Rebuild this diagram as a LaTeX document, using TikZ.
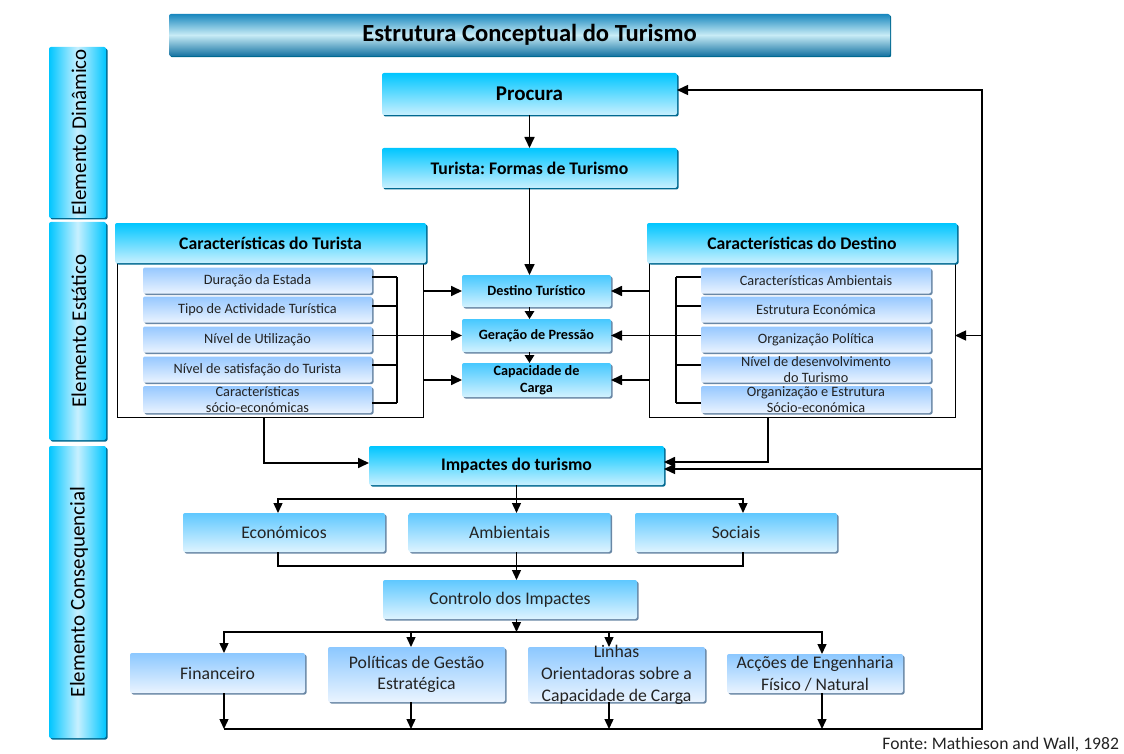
\documentclass[tikz,border=0pt]{standalone}
\usepackage{fontspec}
\setmainfont{Carlito}
\usetikzlibrary{arrows.meta,shadows,calc}
\frenchspacing

% palette
\definecolor{cyanTop}{RGB}{0,198,255}
\definecolor{cyanBot}{RGB}{200,240,255}
\definecolor{tealShadow}{RGB}{0,105,145}
\definecolor{titleEdge}{RGB}{25,135,190}
\definecolor{titleMid}{RGB}{200,236,246}
\definecolor{midTop}{RGB}{70,200,255}
\definecolor{midBot}{RGB}{210,242,255}
\definecolor{subTop}{RGB}{150,200,255}
\definecolor{subBot}{RGB}{234,243,255}
\definecolor{subShadow}{RGB}{105,135,165}
\definecolor{impTop}{RGB}{95,200,255}
\definecolor{impBot}{RGB}{222,244,255}
\definecolor{ctlTop}{RGB}{140,200,255}
\definecolor{ctlBot}{RGB}{234,244,255}
\definecolor{txtGrey}{RGB}{35,35,35}

\newcommand{\fsz}[2]{\fontsize{#1}{#2}\selectfont}

\tikzset{
  every node/.style={inner sep=0pt, outer sep=0pt},
  titlebox/.style={rounded corners=2pt, top color=titleEdge, bottom color=titleEdge!85!black,
    middle color=titleMid,
    drop shadow={shadow xshift=1.2pt, shadow yshift=-1.2pt, fill=tealShadow, opacity=1}},
  cyanbox/.style={rounded corners=2pt, top color=cyanTop, bottom color=cyanBot,
    drop shadow={shadow xshift=1.5pt, shadow yshift=-1.5pt, fill=tealShadow, opacity=1}},
  barbox/.style={rounded corners=2pt, left color=cyanTop, right color=cyanTop, middle color=cyanBot,
    drop shadow={shadow xshift=1.5pt, shadow yshift=-1.5pt, fill=tealShadow, opacity=1}},
  midbox/.style={rounded corners=2pt, top color=midTop, bottom color=midBot,
    minimum width=149pt, font=\bfseries\fsz{14.2}{17.5}, align=center,
    drop shadow={shadow xshift=1.5pt, shadow yshift=-1.5pt, fill=subShadow, opacity=1}},
  subbox/.style={rounded corners=2pt, top color=subTop, bottom color=subBot,
    minimum height=26pt, font=\fsz{14.3}{16.5}, text=txtGrey, align=center,
    drop shadow={shadow xshift=1.5pt, shadow yshift=-1.5pt, fill=subShadow, opacity=1}},
  impbox/.style={rounded corners=2pt, top color=impTop, bottom color=impBot,
    minimum width=202pt, minimum height=39pt, font=\fsz{17.7}{21}, text=txtGrey,
    drop shadow={shadow xshift=1.5pt, shadow yshift=-1.5pt, fill=subShadow, opacity=1}},
  ctlbox/.style={rounded corners=2pt, top color=ctlTop, bottom color=ctlBot,
    font=\fsz{17.7}{21.5}, text=txtGrey, align=center,
    drop shadow={shadow xshift=1.5pt, shadow yshift=-1.5pt, fill=subShadow, opacity=1}},
  boxtext/.style={font=\fsz{17.7}{21.7}, text=txtGrey, align=center},
  subtext/.style={font=\fsz{14.3}{16.5}, text=txtGrey, align=center},
  frame/.style={draw=black, line width=1pt, fill=white},
  arr/.style={-{Triangle[length=11pt,width=10pt]}, line width=1.7pt},
  arrsm/.style={-{Triangle[length=8pt,width=9.5pt]}, line width=1.7pt},
  arrlow/.style={-{Triangle[length=10pt,width=9pt]}, line width=1.4pt},
  thinline/.style={line width=1.1pt},
  lowline/.style={line width=1.3pt},
}

\begin{document}
\begin{tikzpicture}[x=1pt, y=-1pt]
\useasboundingbox (0,0) rectangle (1124,754);

% heading
\node[titlebox, minimum width=721pt, minimum height=42pt, font=\bfseries\fsz{24.6}{28}]
  (title) at (529.5,35) {Estrutura Conceptual do Turismo};

% side bands
\node[barbox, minimum width=57pt, minimum height=171pt] (dinamico) at (77.5,132.5) {};
\node[rotate=90, font=\fsz{21}{24}] (dinamico-t) at (79,132.5) {Elemento Dinâmico};
\node[barbox, minimum width=57pt, minimum height=218pt] (estatico) at (77.5,331) {};
\node[rotate=90, font=\fsz{21}{24}] (estatico-t) at (79,331) {Elemento Estático};
\node[barbox, minimum width=57pt, minimum height=292pt] (consequencial) at (77.5,592) {};
\node[rotate=90, font=\fsz{21}{24}] (consequencial-t) at (79,592) {Elemento Consequencial};

% dynamic element
\node[cyanbox, minimum width=295pt, minimum height=42pt, font=\bfseries\fsz{21}{24}]
  (procura) at (529.5,94) {Procura};
\node[cyanbox, minimum width=295pt, minimum height=40pt, font=\bfseries\fsz{17.7}{21}]
  (turista) at (529.5,168) {Turista: Formas de Turismo};

% tourist characteristics
\node[frame, minimum width=306pt, minimum height=154pt] (ltframe) at (270,340) {};
\node[cyanbox, minimum width=311pt, minimum height=40pt, font=\bfseries\fsz{17.7}{21}]
  (lthead) at (270.5,243) {Características do Turista};
\node[subbox, minimum width=229pt] (lts1) at (257.5,280.5) {Duração da Estada};
\node[subbox, minimum width=229pt] (lts2) at (257.5,309.5) {Tipo de Actividade Turística};
\node[subbox, minimum width=229pt] (lts3) at (257.5,339.5) {Nível de Utilização};
\node[subbox, minimum width=229pt] (lts4) at (257.5,369.5) {Nível de satisfação do Turista};
\node[subbox, minimum width=229pt, minimum height=27pt] (lts5) at (257.5,399.5) {};
\node[subtext] (lts5-t) at (lts5.center) {Características\\sócio-económicas};

% destination characteristics
\node[frame, minimum width=306pt, minimum height=154pt] (rtframe) at (802,340) {};
\node[cyanbox, minimum width=310pt, minimum height=40pt, font=\bfseries\fsz{17.7}{21}]
  (rthead) at (802,243) {Características do Destino};
\node[subbox, minimum width=230pt] (rts1) at (816,280.5) {Características Ambientais};
\node[subbox, minimum width=230pt] (rts2) at (816,309.5) {Estrutura Económica};
\node[subbox, minimum width=230pt] (rts3) at (816,339.5) {Organização Política};
\node[subbox, minimum width=230pt] (rts4) at (816,369.5) {};
\node[subtext] (rts4-t) at (rts4.center) {Nível de desenvolvimento\\do Turismo};
\node[subbox, minimum width=230pt, minimum height=27pt] (rts5) at (816,399.5) {};
\node[subtext] (rts5-t) at (rts5.center) {Organização e Estrutura\\Sócio-económica};

% central column
\node[midbox, minimum height=32pt] (destino) at (536.5,291) {Destino Turístico};
\node[midbox, minimum height=33pt] (geracao) at (536.5,335.5) {Geração de Pressão};
\node[midbox, minimum height=34pt] (capacidade) at (536.5,380) {Capacidade de\\Carga};

% consequential element
\node[cyanbox, minimum width=295pt, minimum height=39pt, font=\bfseries\fsz{17.7}{21}]
  (impactes) at (516.5,465.5) {Impactes do turismo};
\node[impbox] (economicos) at (284,532.5) {Económicos};
\node[impbox] (ambientais) at (509.5,532.5) {Ambientais};
\node[impbox] (sociais) at (736,532.5) {Sociais};
\node[impbox, minimum width=254pt] (controlo) at (510,599.5) {Controlo dos Impactes};

\node[ctlbox, minimum width=175pt, minimum height=40pt] (financeiro) at (217.5,673) {Financeiro};
\node[ctlbox, minimum width=177pt, minimum height=55pt] (politicas) at (416.5,674.5) {Políticas de Gestão\\Estratégica};
\node[ctlbox, minimum width=177pt, minimum height=55pt] (linhas) at (616.5,674.5) {};
\node[boxtext] (linhas-t) at (616.5,675) {Linhas\\Orientadoras sobre a\\Capacidade de Carga};
\node[ctlbox, minimum width=176pt, minimum height=39pt] (accoes) at (815,673.5) {Acções de Engenharia\\Físico / Natural};

\node[anchor=east, font=\fsz{17.6}{21}, text=txtGrey] (fonte) at (1119,745) {Fonte: Mathieson and Wall, 1982};

% guide coordinates for the brackets and the feedback loop
\coordinate (ltbr) at (397,0);
\coordinate (rtbr) at (676,0);
\coordinate (ltdrop) at (264,0);
\coordinate (rtdrop) at (768,0);
\coordinate (loopx) at (982,0);
\coordinate (loopy) at (0,729);

% upper chain
\draw[arr] (procura.south) -- (turista.north);
\draw[arr] (turista.south) -- (turista.south |- destino.north);
\draw[arrsm] (turista.south |- destino.south) -- (turista.south |- geracao.north);
\draw[arrsm] (turista.south |- geracao.south) -- (turista.south |- capacidade.north);

% left bracket
\foreach \n/\s in {1/3.5,2/3.5,4/4.5,5/-3.5}
  \draw[thinline] ([yshift=\s pt]lts\n.east) -- ([yshift=\s pt]lts\n.east -| ltbr);
\draw[thinline] ([yshift=3.5pt]lts1.east -| ltbr) -- ([yshift=-3.5pt]lts5.east -| ltbr);
\draw[arr] (lts3.east |- geracao.west) -- (geracao.west);
\draw[arr] (ltframe.east |- destino.west) -- (destino.west);
\draw[arr] (ltframe.east |- capacidade.west) -- (capacidade.west);

% right bracket
\foreach \n/\s in {1/3.5,2/3.5,4/4.5,5/-3.5}
  \draw[thinline] ([yshift=\s pt]rts\n.west) -- ([yshift=\s pt]rts\n.west -| rtbr);
\draw[thinline] ([yshift=3.5pt]rts1.west -| rtbr) -- ([yshift=-3.5pt]rts5.west -| rtbr);
\draw[arr] (rts3.west |- geracao.east) -- (geracao.east);
\draw[arr] (rtframe.west |- destino.east) -- (destino.east);
\draw[arr] (rtframe.west |- capacidade.east) -- (capacidade.east);

% characteristics feeding the impacts
\draw[arr] (ltframe.south -| ltdrop) |- ([yshift=2.5pt]impactes.west);
\draw[arr] (rtframe.south -| rtdrop) |- ([yshift=3.5pt]impactes.east);

% impacts tree
\path (impactes.south) ++(0,14) coordinate (split);
\draw[arrlow] (impactes.south) -- (impactes.south |- ambientais.north);
\draw[arrlow] (split) -| ([xshift=-6pt]economicos.north);
\draw[arrlow] (split) -| ([xshift=7pt]sociais.north);
\path (impactes.south |- ambientais.south) ++(0,14) coordinate (merge);
\draw[lowline] ([xshift=-6pt]economicos.south) |- (merge) -| ([xshift=7pt]sociais.south);
\draw[arrlow] (impactes.south |- ambientais.south) -- (impactes.south |- controlo.north);

% control measures
\path (impactes.south |- controlo.south) ++(0,13) coordinate (split2);
\draw[arrlow] (impactes.south |- controlo.south) -- (split2);
\draw[arrlow] (split2) -| ([xshift=6.5pt]financeiro.north);
\draw[arrlow] (split2) -| ([xshift=7pt]accoes.north);
\draw[arrlow] ([xshift=-5.5pt]politicas.north |- split2) -- ([xshift=-5.5pt]politicas.north);
\draw[arrlow] ([xshift=-7.5pt]linhas.north |- split2) -- ([xshift=-7.5pt]linhas.north);

\draw[arrlow] ([xshift=6.5pt]financeiro.south) -- ([xshift=6.5pt]financeiro.south |- loopy);
\draw[arrlow] ([xshift=-5.5pt]politicas.south) -- ([xshift=-5.5pt]politicas.south |- loopy);
\draw[arrlow] ([xshift=-7.5pt]linhas.south) -- ([xshift=-7.5pt]linhas.south |- loopy);
\draw[arrlow] ([xshift=7pt]accoes.south) -- ([xshift=7pt]accoes.south |- loopy);

% feedback loop
\draw[arr, line width=1.4pt] ([xshift=6.5pt]financeiro.south |- loopy) -- (loopx |- loopy)
  |- ([yshift=4pt]procura.east);
\draw[arr, line width=1.4pt] (loopx |- geracao.east) -- (rtframe.east |- geracao.east);
\draw[arr, line width=1.4pt] ([yshift=-3.5pt]impactes.east -| loopx) -- ([yshift=-3.5pt]impactes.east);
\end{tikzpicture}
\end{document}
